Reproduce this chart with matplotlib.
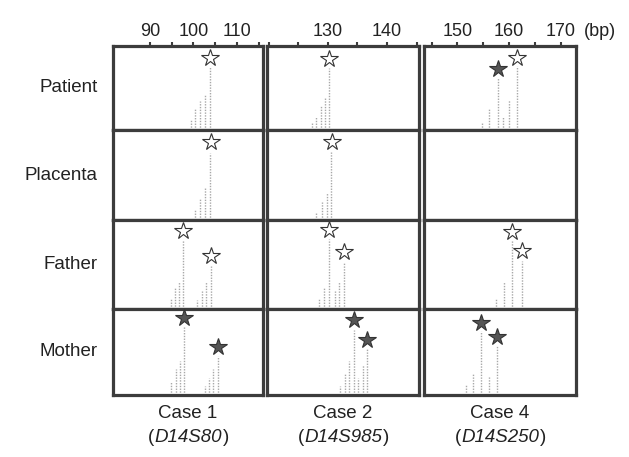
import matplotlib
matplotlib.use("Agg")
import matplotlib.pyplot as plt

plt.rcParams['font.family'] = ['Liberation Sans', 'DejaVu Sans']

samples = ["Patient", "Placenta", "Father", "Mother"]
cases = ["Case 1", "Case 2", "Case 4"]
markers = ["D14S80", "D14S985", "D14S250"]

# x range (bp) and tick marks for each case column
x_ranges = [(81.5, 116.0), (119.7, 145.4), (143.5, 173.0)]
tick_pos = [[90, 95, 100, 105, 110, 115],
            [120, 125, 130, 135, 140, 145],
            [145, 150, 155, 160, 165, 170]]
tick_labels = [["90", "", "100", "", "110", ""],
               ["", "", "130", "", "140", ""],
               ["", "150", "", "160", "", "170"]]

# peaks per column, per sample row: (positions in bp, relative heights)
peak_bp = [
    [[103.8, 102.6, 101.5, 100.3, 99.4],
     [103.9, 102.7, 101.5, 100.3],
     [97.6, 96.7, 95.7, 94.8, 104.0, 102.9, 102.0, 100.8],
     [97.8, 96.9, 96.0, 94.8, 105.6, 104.5, 103.6, 102.6]],
    [[130.2, 129.5, 128.8, 128.0, 127.3],
     [130.5, 129.8, 129.0, 128.0],
     [130.2, 129.3, 128.5, 132.7, 131.9, 131.2],
     [134.4, 133.6, 132.9, 132.0, 136.6, 135.9, 135.1]],
    [[157.9, 156.2, 154.8, 161.5, 160.0, 158.8],
     [],
     [160.6, 162.5, 159.0, 157.5],
     [154.6, 157.7, 156.2, 153.1, 151.7]],
]
peak_h = [
    [[0.75, 0.42, 0.35, 0.25, 0.12],
     [0.74, 0.36, 0.25, 0.12],
     [0.78, 0.30, 0.25, 0.12, 0.48, 0.30, 0.20, 0.10],
     [0.80, 0.40, 0.30, 0.15, 0.45, 0.30, 0.20, 0.10]],
    [[0.74, 0.38, 0.30, 0.15, 0.08],
     [0.76, 0.30, 0.20, 0.08],
     [0.79, 0.25, 0.12, 0.52, 0.30, 0.20],
     [0.76, 0.40, 0.25, 0.10, 0.54, 0.35, 0.20]],
    [[0.62, 0.25, 0.10, 0.76, 0.36, 0.15],
     [],
     [0.77, 0.54, 0.30, 0.12],
     [0.75, 0.57, 0.22, 0.25, 0.12]],
]

# allele stars: position, height, filled (maternal) or open (paternal)
star_bp = [
    [[103.8], [104.0], [97.6, 104.0], [97.8, 105.6]],
    [[130.2], [130.7], [130.2, 132.7], [134.4, 136.6]],
    [[157.9, 161.5], [], [160.6, 162.5], [154.6, 157.7]],
]
star_h = [
    [[0.86], [0.87], [0.88, 0.60], [0.90, 0.56]],
    [[0.85], [0.87], [0.89, 0.64], [0.87, 0.64]],
    [[0.73, 0.86], [], [0.87, 0.65], [0.84, 0.67]],
]
star_filled = [
    [[False], [False], [False, False], [True, True]],
    [[False], [False], [False, False], [True, True]],
    [[True, False], [], [False, False], [True, True]],
]

W, H = 629, 457
col_left = [113, 267, 424]
col_width = [150, 152, 152]
row_top = [46, 130, 220, 309]
row_bottom = [130, 220, 309, 395]
txt = '#222222'

fig = plt.figure(figsize=(W / 100, H / 100), dpi=100)

for c in range(3):
    for r in range(4):
        ax = fig.add_axes([col_left[c] / W, 1 - row_bottom[r] / H,
                           col_width[c] / W, (row_bottom[r] - row_top[r]) / H])
        ax.set_xlim(*x_ranges[c])
        ax.set_ylim(0, 1)
        ax.vlines(peak_bp[c][r], 0, peak_h[c][r], colors='#a8a8a8',
                  linestyles=(0, (1, 1)), lw=1.0)
        for x, y, f in zip(star_bp[c][r], star_h[c][r], star_filled[c][r]):
            ax.plot(x, y, marker='*', markersize=13, mew=0.8,
                    mfc='#555555' if f else 'white', mec='#333333',
                    clip_on=False, zorder=5)
        for s in ax.spines.values():
            s.set_linewidth(2.3)
            s.set_color('#3c3c3c')
        ax.set_yticks([])
        if r == 0:
            ax.xaxis.tick_top()
            ax.set_xticks(tick_pos[c])
            ax.set_xticklabels(tick_labels[c], fontsize=13, color=txt)
            ax.tick_params(axis='x', direction='out', length=3, width=1.5,
                           pad=1, color='#3c3c3c')
        else:
            ax.set_xticks([])

        if c == 0:
            fig.text(98 / W, 1 - (row_top[r] + row_bottom[r]) / 2 / H,
                     samples[r], ha='right', va='center', fontsize=13.5,
                     color=txt)

    cx = (col_left[c] + col_width[c] / 2) / W
    fig.text(cx, 1 - 413 / H, cases[c], ha='center', va='center',
             fontsize=13.5, color=txt)
    # italic marker name with upright parentheses around it
    mid = fig.text(cx, 1 - 438 / H, markers[c], ha='center', va='center',
                   fontsize=13.5, style='italic', color=txt)
    bb = mid.get_window_extent(renderer=fig.canvas.get_renderer())
    fig.text(bb.x0 / W, 1 - 438 / H, "(", ha='right', va='center',
             fontsize=13.5, color=txt)
    fig.text(bb.x1 / W + 0.002, 1 - 438 / H, ")", ha='left', va='center',
             fontsize=13.5, color=txt)

fig.text(600 / W, 1 - 31 / H, "(bp)", ha='center', va='center',
         fontsize=13, color=txt)

fig.savefig("out.png", dpi=100)
